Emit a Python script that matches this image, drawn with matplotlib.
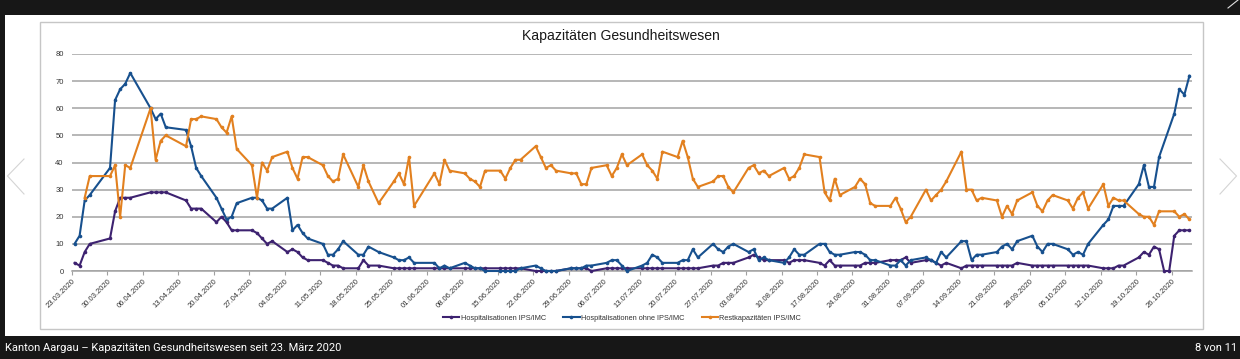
import numpy as np
import pandas as pd
import matplotlib
matplotlib.use("Agg")
import matplotlib.pyplot as plt
import matplotlib.dates as mdates
from matplotlib.patches import Rectangle
from matplotlib.lines import Line2D

nan = np.nan

# ---- data (weekly rows) ----
dates = [
    "23.03", "24.03", "25.03", "26.03",
    "30.03", "31.03", "01.04", "02.04", "03.04",
    "07.04", "08.04", "09.04", "10.04",
    "14.04", "15.04", "16.04", "17.04",
    "20.04", "21.04", "22.04", "23.04", "24.04",
    "27.04", "28.04", "29.04", "30.04", "01.05",
    "04.05", "05.05", "06.05", "07.05", "08.05",
    "11.05", "12.05", "13.05", "14.05", "15.05",
    "18.05", "19.05", "20.05", "22.05",
    "25.05", "26.05", "27.05", "28.05", "29.05",
    "02.06", "03.06", "04.06", "05.06",
    "08.06", "09.06", "10.06", "11.06", "12.06",
    "15.06", "16.06", "17.06", "18.06", "19.06",
    "22.06", "23.06", "24.06", "25.06", "26.06",
    "29.06", "30.06", "01.07", "02.07", "03.07",
    "06.07", "07.07", "08.07", "09.07", "10.07",
    "13.07", "14.07", "15.07", "16.07", "17.07",
    "20.07", "21.07", "22.07", "23.07", "24.07",
    "27.07", "28.07", "29.07", "30.07", "31.07",
    "03.08", "04.08", "05.08", "06.08", "07.08",
    "10.08", "11.08", "12.08", "13.08", "14.08",
    "17.08", "18.08", "19.08", "20.08", "21.08",
    "24.08", "25.08", "26.08", "27.08", "28.08",
    "31.08", "01.09", "02.09", "03.09", "04.09",
    "07.09", "08.09", "09.09", "10.09", "11.09",
    "14.09", "15.09", "16.09", "17.09", "18.09",
    "21.09", "22.09", "23.09", "24.09", "25.09",
    "28.09", "29.09", "30.09", "01.10", "02.10",
    "05.10", "06.10", "07.10", "08.10", "09.10",
    "12.10", "13.10", "14.10", "15.10", "16.10",
    "19.10", "20.10", "21.10", "22.10", "23.10", "24.10", "25.10",
    "26.10", "27.10", "28.10", "29.10",
]

hosp_ips = [
    3, 2, 7, 10,
    12, 22, 27, 27, 27,
    29, 29, 29, 29,
    26, 23, 23, 23,
    18, 20, 18, 15, 15,
    15, 14, 12, 10, 11,
    7, 8, 7, 5, 4,
    4, 3, 2, 2, 1,
    1, 4, 2, 2,
    1, 1, 1, 1, 1,
    1, 1, 1, 1,
    1, 1, 1, 1, 1,
    1, 1, 1, 1, 1,
    0, 0, 0, 0, 0,
    1, 1, 1, 1, 0,
    1, 1, 1, 1, 1,
    1, 1, 1, 1, 1,
    1, 1, 1, 1, 1,
    2, 2, 3, 3, 3,
    5, 6, 5, 4, 4,
    4, 3, 4, 4, 4,
    3, 2, 4, 2, 2,
    2, 2, 3, 3, 3,
    4, 4, 4, 5, 3,
    4, 4, 3, 2, 3,
    1, 2, 2, 2, 2,
    2, 2, 2, 2, 3,
    2, 2, 2, 2, 2,
    2, 2, 2, 2, 2,
    1, 1, 1, 2, 2,
    5, 7, 6, 9, 8, 0, 0,
    13, 15, 15, 15,
]

hosp_ohne = [
    10, 13, 26, 28,
    38, 63, 67, 69, 73,
    60, 56, 58, 53,
    52, 46, 38, 35,
    27, 23, 19, 20, 25,
    27, 27, 26, 23, 23,
    27, 15, 17, 14, 12,
    10, 6, 6, 8, 11,
    6, 6, 9, 7,
    5, 4, 4, 5, 3,
    3, 1, 2, 1,
    3, 2, 1, 1, 0,
    0, 0, 0, 0, 1,
    2, 1, 0, 0, 0,
    1, 1, 1, 2, 2,
    3, 4, 4, 2, 0,
    2, 3, 6, 5, 3,
    3, 4, 4, 8, 5,
    10, 8, 7, 9, 10,
    7, 8, 4, 5, 4,
    3, 5, 8, 6, 6,
    10, 10, 7, 6, 6,
    7, 7, 6, 4, 4,
    2, 2, 4, 2, 4,
    5, 4, 3, 7, 5,
    11, 11, 4, 6, 6,
    7, 9, 10, 8, 11,
    13, 9, 7, 10, 10,
    8, 6, 7, 6, 10,
    17, 19, 24, 24, 24,
    32, 39, 31, 31, 42, nan, nan,
    58, 67, 65, 72,
]

rest_kap = [
    nan, nan, 27, 35,
    35, 39, 20, 39, 38,
    60, 41, 48, 50,
    46, 56, 56, 57,
    56, 53, 51, 57, 45,
    39, 27, 40, 37, 42,
    44, 38, 34, 42, 42,
    39, 35, 33, 34, 43,
    31, 39, 33, 25,
    33, 36, 32, 42, 24,
    36, 32, 41, 37,
    36, 34, 33, 31, 37,
    37, 34, 38, 41, 41,
    46, 42, 38, 39, 37,
    36, 36, 32, 32, 38,
    39, 35, 38, 43, 39,
    43, 39, 37, 34, 44,
    42, 48, 42, 34, 31,
    33, 35, 35, 31, 29,
    38, 39, 36, 37, 35,
    38, 34, 35, 38, 43,
    42, 29, 26, 34, 28,
    31, 34, 32, 25, 24,
    24, 27, 23, 18, 20,
    30, 26, 28, 30, 33,
    44, 30, 30, 26, 27,
    26, 20, 24, 21, 26,
    29, 24, 22, 26, 28,
    26, 23, 27, 29, 23,
    32, 24, 27, 26, 26,
    21, 20, 20, 17, 22, nan, nan,
    22, 20, 21, 19,
]

series_labels = ["Hospitalisationen IPS/IMC", "Hospitalisationen ohne IPS/IMC",
                 "Restkapazitäten IPS/IMC"]
series_colors = ["#3d2270", "#17508e", "#e2801f"]

title = "Kapazitäten Gesundheitswesen"
caption = "Kanton Aargau – Kapazitäten Gesundheitswesen seit 23. März 2020"
counter = "8 von 11"

# ---- figure ----
W, H = 1240, 359
plt.rcParams['font.family'] = ['Liberation Sans', 'DejaVu Sans']
fig = plt.figure(figsize=(W / 100, H / 100), dpi=100, facecolor="#171717")

def fx(x):
    return x / W

def fy(y):
    return 1 - y / H

# white panel
fig.patches.append(Rectangle((fx(5), fy(336)), fx(1235), (336 - 15) / H,
                             transform=fig.transFigure, facecolor="white",
                             edgecolor="none", zorder=-2))
# chart frame
fig.patches.append(Rectangle((fx(39.5), fy(329)), fx(1203 - 39.5), (329 - 21.5) / H,
                             transform=fig.transFigure, facecolor="white",
                             edgecolor="#c6c6c6", lw=1.0, zorder=-1))

ax = fig.add_axes([fx(72), fy(271), fx(1192 - 72), (271 - 54) / H])
ax.set_zorder(5)
ax.set_facecolor("none")

x = pd.to_datetime([d + ".2020" for d in dates], format="%d.%m.%Y") + pd.Timedelta(hours=12)
handles = []
for vals, col, lab in zip([hosp_ips, hosp_ohne, rest_kap], series_colors, series_labels):
    v = np.array(vals, dtype=float)
    m = ~np.isnan(v)
    h, = ax.plot(x[m], v[m], color=col, lw=1.5, marker="o", markersize=2.6,
                 markeredgewidth=0, label=lab, clip_on=False, zorder=3)
    handles.append(h)

ax.set_ylim(0, 80)
ax.set_yticks(np.arange(0, 81, 10))
ax.set_xlim(pd.Timestamp("2020-03-23"), pd.Timestamp("2020-10-30"))
ticks = pd.date_range("2020-03-23", "2020-10-26", freq="7D")
ax.set_xticks(ticks)
ax.xaxis.set_major_formatter(mdates.DateFormatter("%d.%m.%Y"))
for lab in ax.get_xticklabels():
    lab.set_rotation(45)
    lab.set_ha("right")
    lab.set_rotation_mode("anchor")
ax.tick_params(axis="x", labelsize=5.5, labelcolor="#333333", length=3,
               color="#a0a0a0", width=0.8, pad=2)
ax.tick_params(axis="y", labelsize=5.5, labelcolor="#333333", length=0, pad=6)
ax.yaxis.grid(True, color="#a3a3a3", lw=1.1)
ax.set_axisbelow(True)
for s in ["left", "right", "top"]:
    ax.spines[s].set_visible(False)
ax.spines["bottom"].set_color("#a3a3a3")
ax.spines["bottom"].set_linewidth(1.1)

fig.text(fx(621), fy(36), title, ha="center", va="center", fontsize=10.1, color="#1a1a1a")

fig.legend(handles=handles, labels=series_labels, loc="center",
           bbox_to_anchor=(fx(622), fy(318)), ncol=3, frameon=False,
           fontsize=5.3, handlelength=2.2, handletextpad=0.15, columnspacing=2.4,
           labelcolor="#333333")

fig.text(fx(5), fy(348), caption, ha="left", va="center", fontsize=8,
         color="white", family=["Roboto", "DejaVu Sans"])
fig.text(fx(1237), fy(348), counter, ha="right", va="center", fontsize=8,
         color="white", family=["Roboto", "DejaVu Sans"])

# navigation arrows
fig.add_artist(Line2D([fx(24), fx(7.5), fx(24)], [fy(159), fy(176), fy(194)],
                      transform=fig.transFigure, color="#d4d4d4", lw=0.8))
fig.add_artist(Line2D([fx(1220), fx(1236.5), fx(1220)], [fy(159), fy(176), fy(194)],
                      transform=fig.transFigure, color="#d4d4d4", lw=0.8))
fig.add_artist(Line2D([fx(1228), fx(1238)], [fy(8), fy(0)],
                      transform=fig.transFigure, color="#e0e0e0", lw=0.8))

fig.savefig("out.png", dpi=100, facecolor=fig.get_facecolor())
